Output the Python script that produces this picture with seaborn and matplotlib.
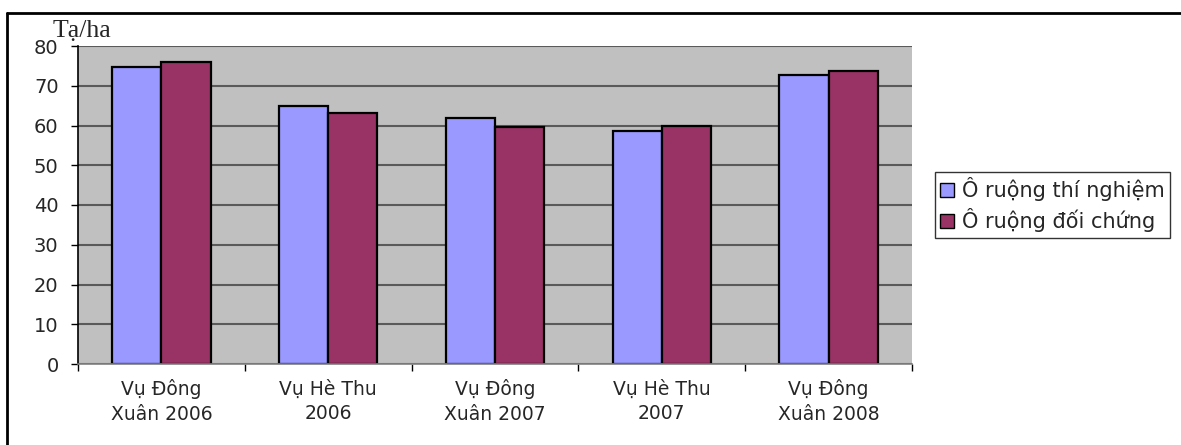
import matplotlib
matplotlib.use("Agg")
import matplotlib.pyplot as plt
import seaborn as sns
import pandas as pd
import numpy as np
from matplotlib.lines import Line2D
from matplotlib.ticker import FixedLocator

categories = ["Vụ Đông\nXuân 2006", "Vụ Hè Thu\n2006", "Vụ Đông\nXuân 2007",
              "Vụ Hè Thu\n2007", "Vụ Đông\nXuân 2008"]
series_names = ["Ô ruộng thí nghiệm", "Ô ruộng đối chứng"]
thi_nghiem = [74.6, 64.9, 61.9, 58.5, 72.7]
doi_chung = [76.1, 63.1, 59.6, 59.9, 73.8]
y_ticks = [0, 10, 20, 30, 40, 50, 60, 70, 80]

df = pd.DataFrame({
    "cat": categories * 2,
    "series": [series_names[0]] * 5 + [series_names[1]] * 5,
    "value": thi_nghiem + doi_chung,
})

sns.set_theme(style="white")
plt.rcParams["font.family"] = ["DejaVu Sans"]

fig = plt.figure(figsize=(11.81, 4.45), dpi=100)
ax = fig.add_axes([78 / 1181, 1 - 364 / 445, (912 - 78) / 1181, (364 - 46) / 445])

sns.barplot(data=df, x="cat", y="value", hue="series", order=categories,
            hue_order=series_names, palette=["#9999FF", "#993366"],
            width=0.59, edgecolor="black", linewidth=1.6, ax=ax, saturation=1)

ax.set_facecolor("#C0C0C0")
ax.set_ylim(0, 80)
ax.set_xlim(-0.5, 4.5)
ax.set_yticks(y_ticks)
ax.yaxis.grid(True, color="#5a5a5a", linewidth=1.5)
ax.xaxis.grid(False)
ax.set_axisbelow(True)
for s in ["top", "right"]:
    ax.spines[s].set_visible(False)
ax.spines["left"].set_color("black")
ax.spines["left"].set_linewidth(1.2)
ax.spines["bottom"].set_color("#808080")
ax.spines["bottom"].set_linewidth(1.2)

ax.set_xlabel("")
ax.set_ylabel("")
ax.tick_params(axis="y", which="major", direction="out", length=5, width=1,
               color="black", labelsize=14, pad=9, left=True)
ax.tick_params(axis="x", which="major", length=0, labelsize=13.5, pad=11)
ax.xaxis.set_minor_locator(FixedLocator(np.arange(-0.5, 5.0, 1.0)))
ax.tick_params(axis="x", which="minor", direction="out", length=5, width=1,
               color="black", bottom=True)
for lbl in ax.get_xticklabels():
    lbl.set_linespacing(1.4)
    lbl.set_horizontalalignment("center")

fig.text(53 / 1181, 1 - 37 / 445, "Tạ/ha", fontsize=18.5,
         family="Liberation Serif", ha="left", va="baseline")

leg = ax.legend(loc="upper left", bbox_to_anchor=(935 / 1181, 1 - 172 / 445),
                bbox_transform=fig.transFigure, frameon=True, fontsize=15,
                handlelength=0.65, handleheight=0.65, handletextpad=0.4,
                borderpad=0.25, labelspacing=0.35, borderaxespad=0, fancybox=False)
leg.get_frame().set_edgecolor("black")
leg.get_frame().set_linewidth(1)
for h in leg.legend_handles:
    h.set_edgecolor("black")
    h.set_linewidth(1)

fig.add_artist(Line2D([7 / 1181, 7 / 1181], [0, 1 - 13 / 445], transform=fig.transFigure,
                      color="black", linewidth=2))
fig.add_artist(Line2D([7 / 1181, 1], [1 - 13 / 445, 1 - 13 / 445], transform=fig.transFigure,
                      color="black", linewidth=2))

fig.savefig("out.png", dpi=100, facecolor="white")
